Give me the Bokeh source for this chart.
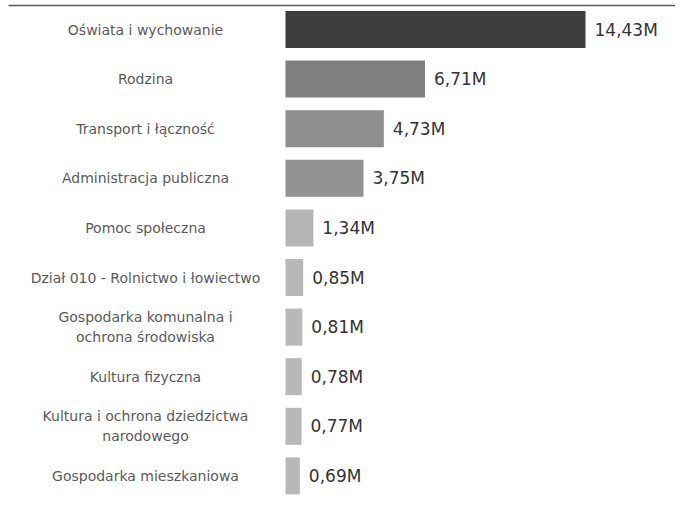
from bokeh.plotting import figure
from bokeh.models import Range1d, ColumnDataSource
from bokeh.core.properties import value
from bokeh.embed import file_html
from bokeh.resources import INLINE

categories = [
    "Oświata i wychowanie",
    "Rodzina",
    "Transport i łączność",
    "Administracja publiczna",
    "Pomoc społeczna",
    "Dział 010 - Rolnictwo i łowiectwo",
    "Gospodarka komunalna i\nochrona środowiska",
    "Kultura fizyczna",
    "Kultura i ochrona dziedzictwa\nnarodowego",
    "Gospodarka mieszkaniowa",
]
values = [14.43, 6.71, 4.73, 3.75, 1.34, 0.85, 0.81, 0.78, 0.77, 0.69]
value_labels = ["14,43M", "6,71M", "4,73M", "3,75M", "1,34M",
                "0,85M", "0,81M", "0,78M", "0,77M", "0,69M"]
colors = ["#3d3d3d", "#808080", "#8e8e8e", "#929292", "#b4b4b4",
          "#b8b8b8", "#b8b8b8", "#b8b8b8", "#b8b8b8", "#b8b8b8"]

# layout constants (pixels inside the figure)
W, H = 675, 495
bar_x0_px = 285
px_per_unit = 300 / 14.43
row_px = 49.6
first_row_px = 29
bar_h_px = 37
label_center_px = 145
rule_y_px = 5
rule_x0_px = 8

x_start = -bar_x0_px / px_per_unit
x_end = (W - bar_x0_px) / px_per_unit
y_top = -first_row_px / row_px
y_bottom = (H - first_row_px) / row_px

idx = list(range(len(values)))
src = ColumnDataSource(dict(
    y=idx, v=values, lab=value_labels, cat=categories, c=colors,
    lx=[(label_center_px - bar_x0_px) / px_per_unit] * len(values),
))

p = figure(width=W, height=H, output_backend="svg", toolbar_location=None,
           x_range=Range1d(x_start, x_end), y_range=Range1d(y_bottom, y_top),
           min_border=0)
p.axis.visible = False
p.grid.visible = False
p.outline_line_color = None
p.background_fill_color = "white"
p.border_fill_color = "white"

# top rule
rule_y = y_top + rule_y_px / row_px
p.segment(x0=[x_start + rule_x0_px / px_per_unit], x1=[x_end], y0=[rule_y], y1=[rule_y],
          line_color="#555555", line_width=1.5)

p.hbar(y="y", left=0, right="v", height=bar_h_px / row_px, fill_color="c",
       line_color=None, source=src)

p.text(x="v", y="y", text="lab", source=src, x_offset=9,
       text_align="left", text_baseline="middle",
       text_font=value("DejaVu Sans"), text_font_size="17px", text_color="#333333")

p.text(x="lx", y="y", text="cat", source=src,
       text_align="center", text_baseline="middle", text_line_height=1.25,
       text_font=value("DejaVu Sans"), text_font_size="14px", text_color="#5a5a5a")

open("out.html", "w").write(file_html(p, INLINE))
